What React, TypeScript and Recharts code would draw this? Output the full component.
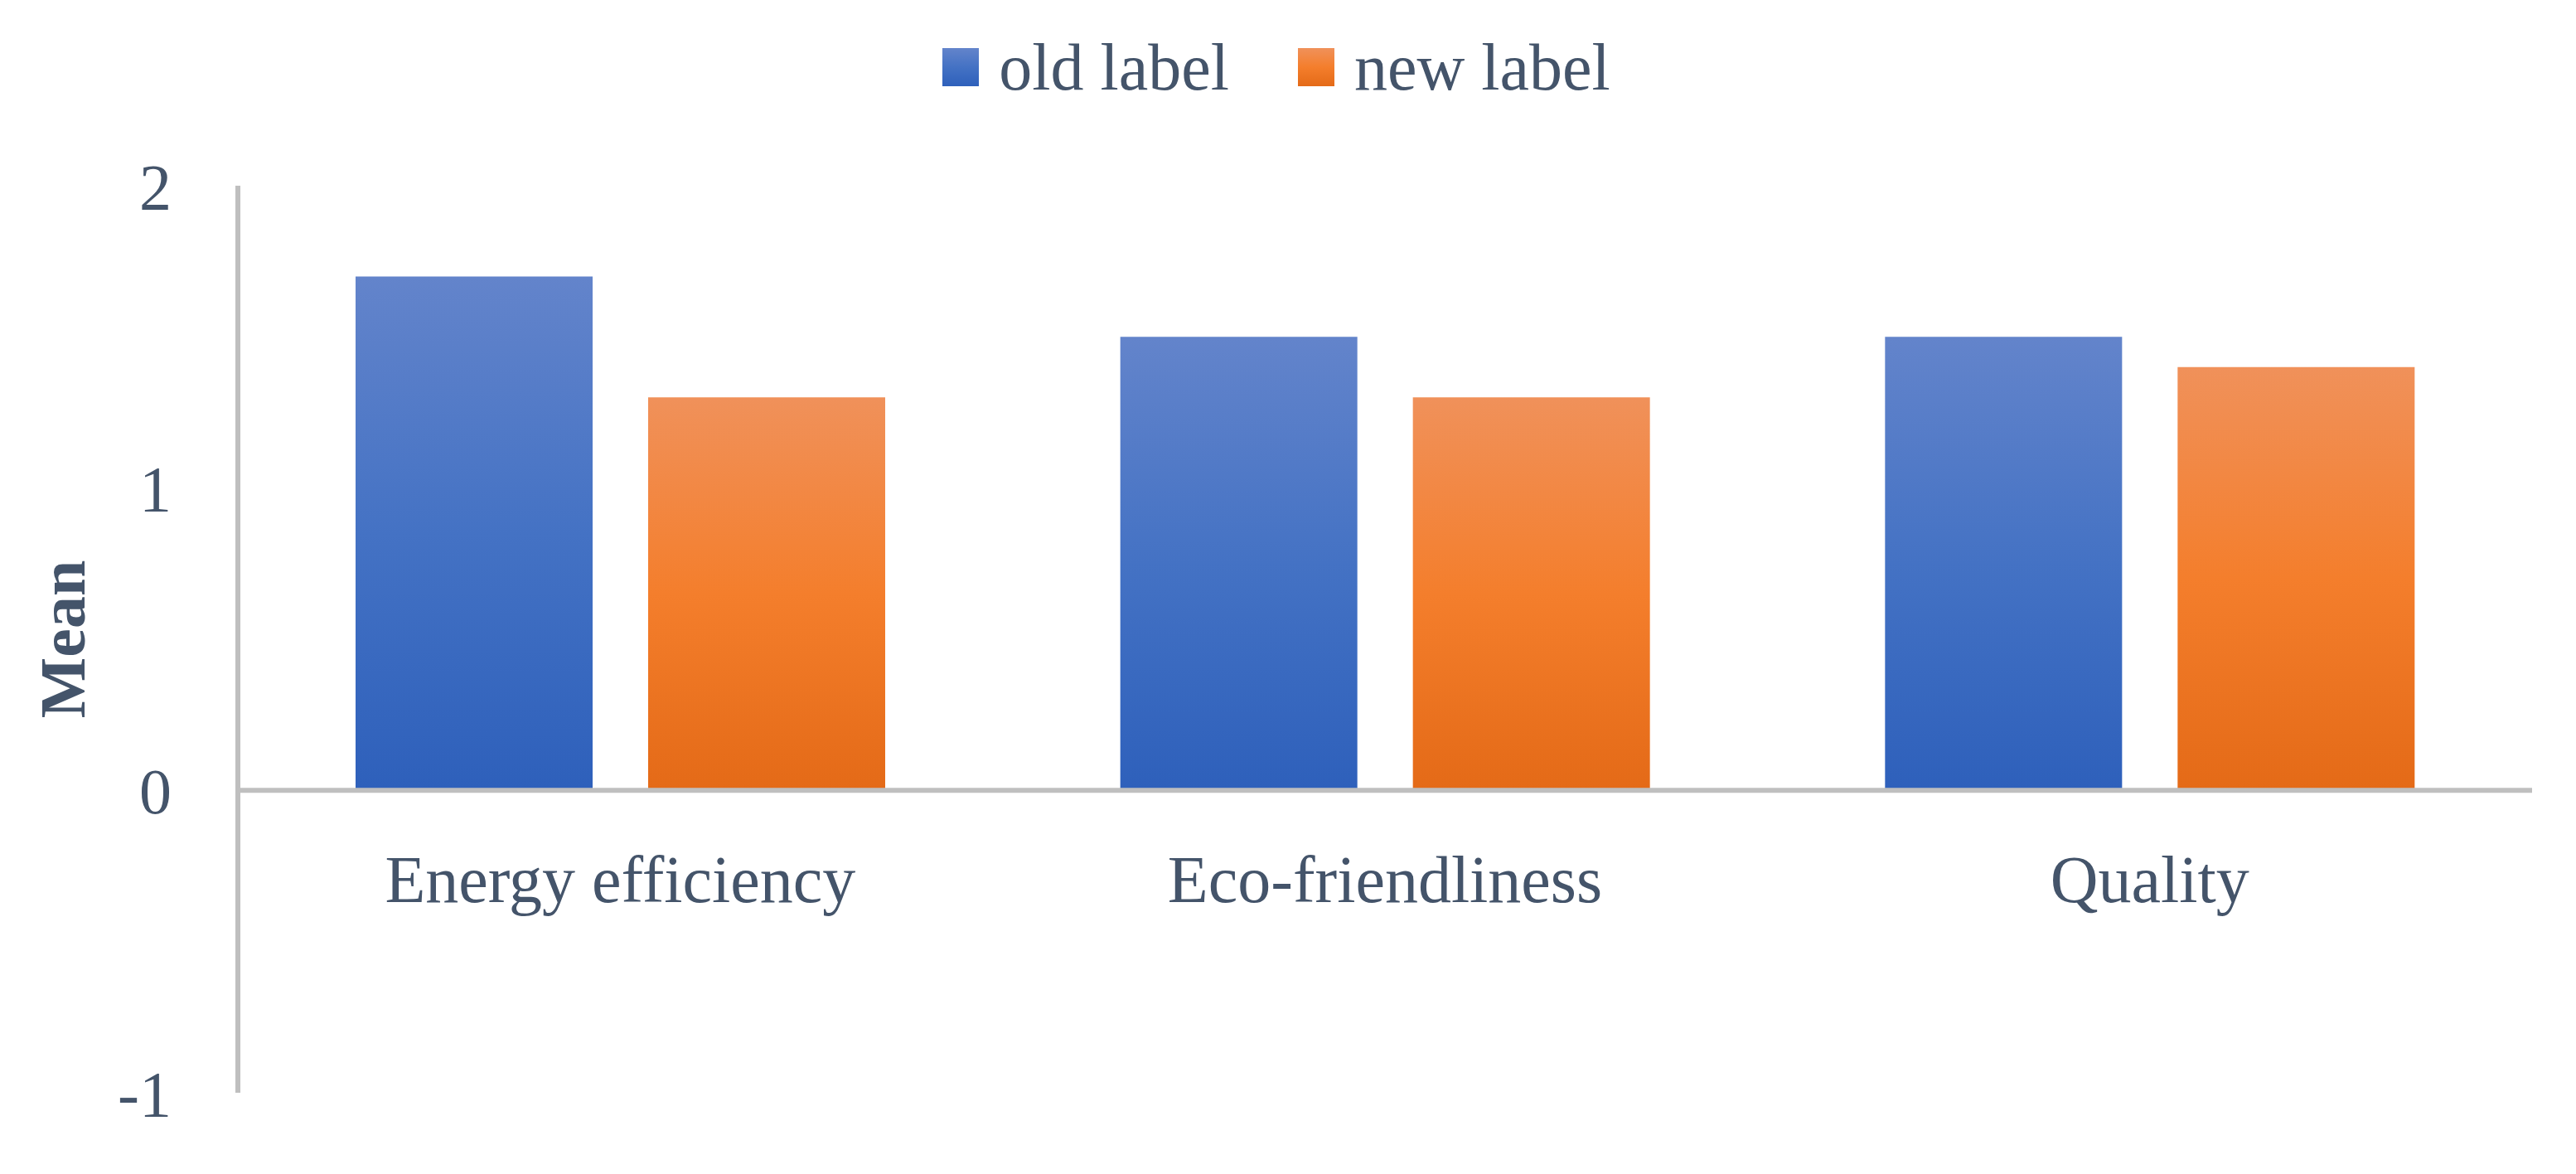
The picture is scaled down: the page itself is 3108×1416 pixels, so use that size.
import React from 'react';
import { BarChart, Bar, XAxis, YAxis, ReferenceLine, Legend } from 'recharts';

const categories = ['Energy efficiency', 'Eco-friendliness', 'Quality'];
const oldLabel = [1.7, 1.5, 1.5];
const newLabel = [1.3, 1.3, 1.4];
const yTicks = [-1, 0, 1, 2];
const seriesNames = ['old label', 'new label'];
const yAxisTitle = 'Mean';

const data = categories.map((c, i) => ({ name: c, oldLabel: oldLabel[i], newLabel: newLabel[i] }));

const TEXT = '#44546a';
const FONT = '"Liberation Serif", "Times New Roman", serif';
const FS = 78;

const CategoryTick = (props: any) => {
  const { x, y, payload } = props;
  return (
    <text x={x} y={y - 230} textAnchor="middle" fill={TEXT} fontSize={80} fontFamily={FONT}>
      {payload.value}
    </text>
  );
};

const LegendContent = () => {
  const items = [
    { name: seriesNames[0], bg: 'linear-gradient(#6384cb, #4472c4 50%, #2e60bb)' },
    { name: seriesNames[1], bg: 'linear-gradient(#f0915a, #f47e2c 50%, #e46a17)' },
  ];
  return (
    <div style={{ display: 'flex', justifyContent: 'center', alignItems: 'center', height: 90 }}>
      {items.map((it, i) => (
        <div key={it.name} style={{ display: 'flex', alignItems: 'center', marginLeft: i === 0 ? 0 : 83 }}>
          <div style={{ width: 44, height: 46, background: it.bg }} />
          <span style={{ marginLeft: 24, fontFamily: FONT, fontSize: 80, lineHeight: 1, color: TEXT }}>{it.name}</span>
        </div>
      ))}
    </div>
  );
};

const MeanLabel = (props: any) => {
  const { viewBox } = props;
  const cx = 75;
  const cy = viewBox.y + viewBox.height / 2;
  return (
    <text
      x={cx}
      y={cy}
      transform={`rotate(-90, ${cx}, ${cy})`}
      textAnchor="middle"
      dominantBaseline="central"
      fill={TEXT}
      fontSize={FS}
      fontWeight="bold"
      fontFamily={FONT}
    >
      {yAxisTitle}
    </text>
  );
};

export default function App() {
  return (
    <div style={{ position: 'absolute', left: 0, top: 0, background: '#fff' }}>
      <BarChart
        width={3108}
        height={1416}
        data={data}
        margin={{ top: 224, right: 53, left: 0, bottom: 68 }}
        barSize={286}
        barGap={67}
      >
        <defs>
          <linearGradient id="gBlue" x1="0" y1="0" x2="0" y2="1">
            <stop offset="0%" stopColor="#6384cb" />
            <stop offset="50%" stopColor="#4472c4" />
            <stop offset="100%" stopColor="#2e60bb" />
          </linearGradient>
          <linearGradient id="gOrange" x1="0" y1="0" x2="0" y2="1">
            <stop offset="0%" stopColor="#f0915a" />
            <stop offset="50%" stopColor="#f47e2c" />
            <stop offset="100%" stopColor="#e46a17" />
          </linearGradient>
        </defs>
        <XAxis
          dataKey="name"
          height={30}
          axisLine={false}
          tickLine={false}
          tickSize={0}
          tickMargin={0}
          tick={<CategoryTick />}
          interval={0}
        />
        <YAxis
          width={287}
          domain={[-1, 2]}
          ticks={yTicks}
          axisLine={{ stroke: '#bfbfbf', strokeWidth: 6 }}
          tickLine={false}
          tickSize={0}
          tickMargin={80}
          tick={{ fill: TEXT, fontSize: FS, fontFamily: FONT }}
          label={<MeanLabel />}
        />
        <Legend
          verticalAlign="middle"
          align="center"
          layout="horizontal"
          wrapperStyle={{ top: 36, left: 0, width: 3080, height: 90 }}
          content={<LegendContent />}
        />
        <Bar dataKey="oldLabel" name={seriesNames[0]} fill="url(#gBlue)" isAnimationActive={false} />
        <Bar dataKey="newLabel" name={seriesNames[1]} fill="url(#gOrange)" isAnimationActive={false} />
        <ReferenceLine y={0} stroke="#bfbfbf" strokeWidth={6} />
      </BarChart>
    </div>
  );
}
